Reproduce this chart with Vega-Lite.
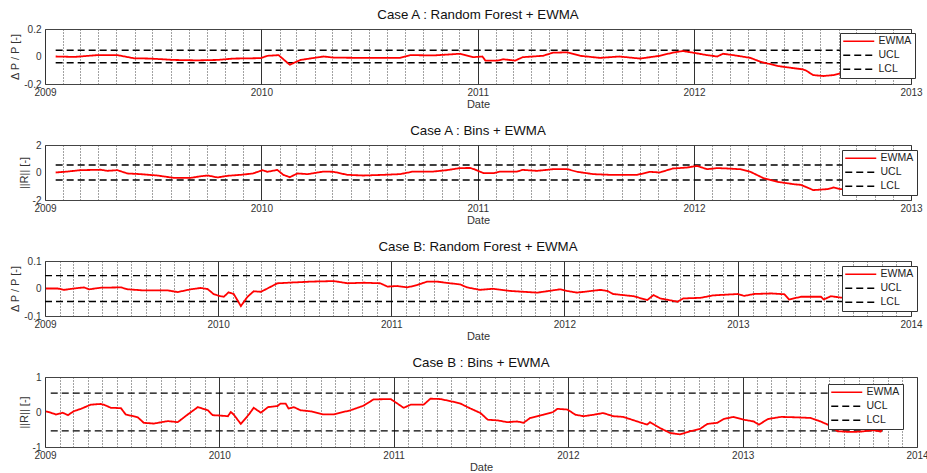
{
"$schema": "https://vega.github.io/schema/vega-lite/v6.json",
"padding": {"left": 9, "top": 7, "right": 0, "bottom": 0},
"background": "white",
"config": {
  "font": "Liberation Sans",
  "view": {"stroke": "#444", "strokeWidth": 1},
  "title": {"font": "Liberation Sans", "fontSize": 13.3, "fontWeight": "normal", "color": "#111", "offset": 3},
  "axis": {"labelFont": "Liberation Sans", "labelFontSize": 10, "labelColor": "#333", "titleFont": "Liberation Sans", "titleFontSize": 11, "titleFontWeight": "normal", "titleColor": "#333", "domain": false, "ticks": false},
  "axisX": {"labelPadding": 3, "titlePadding": 1},
  "axisY": {"labelPadding": 4, "titlePadding": 3},
  "legend": {"title": null, "symbolType": "M-3.875,0H3.875", "symbolSize": 64, "symbolOffset": 10.5, "labelOffset": 14.5, "symbolStrokeWidth": 1.6, "labelFont": "Liberation Sans", "labelFontSize": 10.5, "labelColor": "#222", "padding": 3, "rowPadding": 3, "fillColor": "white", "strokeColor": "#333"}
},
"resolve": {"scale": {"x": "independent", "y": "independent", "color": "independent", "strokeDash": "independent"}, "legend": {"color": "independent", "strokeDash": "independent"}},
"spacing": 13,
"datasets": {
"p1": [
{"d":"2009-01-19","v":0.045,"s":"UCL"},{"d":"2012-12-20","v":0.045,"s":"UCL"},
{"d":"2009-01-19","v":-0.045,"s":"LCL"},{"d":"2012-12-20","v":-0.045,"s":"LCL"},
{"d":"2009-01-19","v":0.0,"s":"EWMA"},{"d":"2009-02-20","v":-0.003,"s":"EWMA"},{"d":"2009-03-30","v":0.01,"s":"EWMA"},{"d":"2009-05-03","v":0.01,"s":"EWMA"},{"d":"2009-05-31","v":-0.013,"s":"EWMA"},{"d":"2009-06-28","v":-0.015,"s":"EWMA"},{"d":"2009-08-06","v":-0.025,"s":"EWMA"},{"d":"2009-09-15","v":-0.028,"s":"EWMA"},{"d":"2009-10-19","v":-0.025,"s":"EWMA"},{"d":"2009-11-15","v":-0.015,"s":"EWMA"},{"d":"2009-12-31","v":-0.012,"s":"EWMA"},{"d":"2010-01-11","v":0.005,"s":"EWMA"},{"d":"2010-01-30","v":0.01,"s":"EWMA"},{"d":"2010-02-18","v":-0.06,"s":"EWMA"},{"d":"2010-03-08","v":-0.025,"s":"EWMA"},{"d":"2010-04-16","v":0.0,"s":"EWMA"},{"d":"2010-05-03","v":-0.008,"s":"EWMA"},{"d":"2010-06-20","v":-0.01,"s":"EWMA"},{"d":"2010-08-23","v":-0.01,"s":"EWMA"},{"d":"2010-09-09","v":0.01,"s":"EWMA"},{"d":"2010-10-20","v":0.008,"s":"EWMA"},{"d":"2010-12-02","v":0.02,"s":"EWMA"},{"d":"2010-12-24","v":-0.005,"s":"EWMA"},{"d":"2011-01-09","v":0.0,"s":"EWMA"},{"d":"2011-01-14","v":-0.03,"s":"EWMA"},{"d":"2011-02-03","v":-0.03,"s":"EWMA"},{"d":"2011-02-13","v":-0.02,"s":"EWMA"},{"d":"2011-03-05","v":-0.03,"s":"EWMA"},{"d":"2011-03-18","v":-0.005,"s":"EWMA"},{"d":"2011-04-21","v":0.005,"s":"EWMA"},{"d":"2011-05-08","v":0.028,"s":"EWMA"},{"d":"2011-06-01","v":0.03,"s":"EWMA"},{"d":"2011-06-23","v":0.005,"s":"EWMA"},{"d":"2011-07-26","v":-0.01,"s":"EWMA"},{"d":"2011-08-28","v":0.0,"s":"EWMA"},{"d":"2011-10-02","v":-0.015,"s":"EWMA"},{"d":"2011-11-04","v":0.005,"s":"EWMA"},{"d":"2011-11-26","v":0.028,"s":"EWMA"},{"d":"2011-12-13","v":0.04,"s":"EWMA"},{"d":"2011-12-30","v":0.028,"s":"EWMA"},{"d":"2012-01-23","v":0.01,"s":"EWMA"},{"d":"2012-02-09","v":0.0,"s":"EWMA"},{"d":"2012-02-19","v":0.02,"s":"EWMA"},{"d":"2012-03-07","v":0.01,"s":"EWMA"},{"d":"2012-04-05","v":-0.01,"s":"EWMA"},{"d":"2012-04-22","v":-0.038,"s":"EWMA"},{"d":"2012-05-21","v":-0.069,"s":"EWMA"},{"d":"2012-06-17","v":-0.085,"s":"EWMA"},{"d":"2012-07-02","v":-0.093,"s":"EWMA"},{"d":"2012-07-07","v":-0.1,"s":"EWMA"},{"d":"2012-07-20","v":-0.135,"s":"EWMA"},{"d":"2012-08-06","v":-0.142,"s":"EWMA"},{"d":"2012-08-23","v":-0.135,"s":"EWMA"},{"d":"2012-09-04","v":-0.122,"s":"EWMA"},{"d":"2012-10-10","v":-0.12,"s":"EWMA"},{"d":"2012-11-20","v":-0.115,"s":"EWMA"}
],
"p2": [
{"d":"2009-01-19","v":0.55,"s":"UCL"},{"d":"2012-12-20","v":0.55,"s":"UCL"},
{"d":"2009-01-19","v":-0.55,"s":"LCL"},{"d":"2012-12-20","v":-0.55,"s":"LCL"},
{"d":"2009-01-19","v":0.0,"s":"EWMA"},{"d":"2009-02-08","v":0.07,"s":"EWMA"},{"d":"2009-03-02","v":0.17,"s":"EWMA"},{"d":"2009-04-05","v":0.2,"s":"EWMA"},{"d":"2009-04-16","v":0.12,"s":"EWMA"},{"d":"2009-05-03","v":0.17,"s":"EWMA"},{"d":"2009-05-20","v":-0.07,"s":"EWMA"},{"d":"2009-06-11","v":-0.12,"s":"EWMA"},{"d":"2009-07-10","v":-0.22,"s":"EWMA"},{"d":"2009-08-06","v":-0.39,"s":"EWMA"},{"d":"2009-09-04","v":-0.39,"s":"EWMA"},{"d":"2009-09-21","v":-0.27,"s":"EWMA"},{"d":"2009-10-03","v":-0.22,"s":"EWMA"},{"d":"2009-10-19","v":-0.36,"s":"EWMA"},{"d":"2009-11-05","v":-0.24,"s":"EWMA"},{"d":"2009-11-27","v":-0.17,"s":"EWMA"},{"d":"2009-12-18","v":-0.07,"s":"EWMA"},{"d":"2010-01-03","v":0.17,"s":"EWMA"},{"d":"2010-01-11","v":0.05,"s":"EWMA"},{"d":"2010-01-28","v":0.19,"s":"EWMA"},{"d":"2010-02-07","v":-0.17,"s":"EWMA"},{"d":"2010-02-18","v":-0.34,"s":"EWMA"},{"d":"2010-03-03","v":-0.07,"s":"EWMA"},{"d":"2010-03-20","v":-0.12,"s":"EWMA"},{"d":"2010-04-16","v":0.07,"s":"EWMA"},{"d":"2010-05-03","v":0.05,"s":"EWMA"},{"d":"2010-05-26","v":-0.17,"s":"EWMA"},{"d":"2010-06-22","v":-0.22,"s":"EWMA"},{"d":"2010-07-26","v":-0.17,"s":"EWMA"},{"d":"2010-08-23","v":-0.12,"s":"EWMA"},{"d":"2010-09-14","v":0.07,"s":"EWMA"},{"d":"2010-10-18","v":0.07,"s":"EWMA"},{"d":"2010-11-10","v":0.17,"s":"EWMA"},{"d":"2010-12-02","v":0.32,"s":"EWMA"},{"d":"2010-12-19","v":0.33,"s":"EWMA"},{"d":"2010-12-26","v":0.24,"s":"EWMA"},{"d":"2011-01-11","v":-0.05,"s":"EWMA"},{"d":"2011-01-27","v":-0.05,"s":"EWMA"},{"d":"2011-02-08","v":0.07,"s":"EWMA"},{"d":"2011-03-08","v":0.07,"s":"EWMA"},{"d":"2011-03-18","v":0.19,"s":"EWMA"},{"d":"2011-04-11","v":0.12,"s":"EWMA"},{"d":"2011-05-08","v":0.24,"s":"EWMA"},{"d":"2011-06-01","v":0.24,"s":"EWMA"},{"d":"2011-06-18","v":0.05,"s":"EWMA"},{"d":"2011-07-15","v":-0.12,"s":"EWMA"},{"d":"2011-08-12","v":-0.17,"s":"EWMA"},{"d":"2011-09-27","v":-0.17,"s":"EWMA"},{"d":"2011-10-19","v":0.05,"s":"EWMA"},{"d":"2011-11-04","v":0.0,"s":"EWMA"},{"d":"2011-11-26","v":0.29,"s":"EWMA"},{"d":"2011-12-20","v":0.36,"s":"EWMA"},{"d":"2012-01-06","v":0.48,"s":"EWMA"},{"d":"2012-01-23","v":0.24,"s":"EWMA"},{"d":"2012-02-09","v":0.32,"s":"EWMA"},{"d":"2012-02-26","v":0.29,"s":"EWMA"},{"d":"2012-03-19","v":0.24,"s":"EWMA"},{"d":"2012-04-05","v":0.05,"s":"EWMA"},{"d":"2012-04-27","v":-0.41,"s":"EWMA"},{"d":"2012-05-21","v":-0.68,"s":"EWMA"},{"d":"2012-06-17","v":-0.85,"s":"EWMA"},{"d":"2012-06-29","v":-0.9,"s":"EWMA"},{"d":"2012-07-10","v":-1.09,"s":"EWMA"},{"d":"2012-07-20","v":-1.28,"s":"EWMA"},{"d":"2012-08-13","v":-1.21,"s":"EWMA"},{"d":"2012-08-23","v":-1.09,"s":"EWMA"},{"d":"2012-09-04","v":-1.21,"s":"EWMA"},{"d":"2012-10-15","v":-1.2,"s":"EWMA"},{"d":"2012-11-20","v":-1.15,"s":"EWMA"}
],
"p3": [
{"d":"2009-01-01","v":0.047,"s":"UCL"},{"d":"2013-09-15","v":0.047,"s":"UCL"},
{"d":"2009-01-01","v":-0.047,"s":"LCL"},{"d":"2013-09-15","v":-0.047,"s":"LCL"},
{"d":"2009-01-03","v":0.0,"s":"EWMA"},{"d":"2009-01-28","v":0.0,"s":"EWMA"},{"d":"2009-02-10","v":-0.005,"s":"EWMA"},{"d":"2009-03-03","v":0.0,"s":"EWMA"},{"d":"2009-03-24","v":0.004,"s":"EWMA"},{"d":"2009-04-04","v":-0.003,"s":"EWMA"},{"d":"2009-04-29","v":0.003,"s":"EWMA"},{"d":"2009-06-10","v":0.004,"s":"EWMA"},{"d":"2009-06-25","v":-0.003,"s":"EWMA"},{"d":"2009-07-28","v":-0.007,"s":"EWMA"},{"d":"2009-09-17","v":-0.007,"s":"EWMA"},{"d":"2009-10-08","v":-0.013,"s":"EWMA"},{"d":"2009-11-04","v":-0.003,"s":"EWMA"},{"d":"2009-11-25","v":0.002,"s":"EWMA"},{"d":"2009-12-10","v":-0.002,"s":"EWMA"},{"d":"2009-12-23","v":-0.021,"s":"EWMA"},{"d":"2010-01-06","v":-0.028,"s":"EWMA"},{"d":"2010-01-13","v":-0.03,"s":"EWMA"},{"d":"2010-01-23","v":-0.014,"s":"EWMA"},{"d":"2010-02-03","v":-0.02,"s":"EWMA"},{"d":"2010-02-18","v":-0.064,"s":"EWMA"},{"d":"2010-03-04","v":-0.03,"s":"EWMA"},{"d":"2010-03-17","v":-0.01,"s":"EWMA"},{"d":"2010-04-01","v":-0.012,"s":"EWMA"},{"d":"2010-04-15","v":0.0,"s":"EWMA"},{"d":"2010-05-06","v":0.019,"s":"EWMA"},{"d":"2010-06-09","v":0.022,"s":"EWMA"},{"d":"2010-07-15","v":0.025,"s":"EWMA"},{"d":"2010-09-02","v":0.027,"s":"EWMA"},{"d":"2010-10-01","v":0.019,"s":"EWMA"},{"d":"2010-11-04","v":0.021,"s":"EWMA"},{"d":"2010-12-09","v":0.019,"s":"EWMA"},{"d":"2010-12-24","v":0.007,"s":"EWMA"},{"d":"2011-01-14","v":0.009,"s":"EWMA"},{"d":"2011-02-04","v":0.004,"s":"EWMA"},{"d":"2011-02-25","v":0.013,"s":"EWMA"},{"d":"2011-03-18","v":0.025,"s":"EWMA"},{"d":"2011-04-08","v":0.025,"s":"EWMA"},{"d":"2011-05-05","v":0.019,"s":"EWMA"},{"d":"2011-05-26","v":0.015,"s":"EWMA"},{"d":"2011-06-10","v":0.004,"s":"EWMA"},{"d":"2011-07-07","v":-0.005,"s":"EWMA"},{"d":"2011-08-03","v":-0.001,"s":"EWMA"},{"d":"2011-09-09","v":-0.009,"s":"EWMA"},{"d":"2011-11-05","v":-0.015,"s":"EWMA"},{"d":"2011-12-23","v":-0.003,"s":"EWMA"},{"d":"2012-01-07","v":-0.009,"s":"EWMA"},{"d":"2012-01-28","v":-0.015,"s":"EWMA"},{"d":"2012-03-17","v":-0.005,"s":"EWMA"},{"d":"2012-04-01","v":-0.009,"s":"EWMA"},{"d":"2012-04-13","v":-0.02,"s":"EWMA"},{"d":"2012-05-26","v":-0.028,"s":"EWMA"},{"d":"2012-06-24","v":-0.042,"s":"EWMA"},{"d":"2012-07-07","v":-0.024,"s":"EWMA"},{"d":"2012-07-21","v":-0.036,"s":"EWMA"},{"d":"2012-08-27","v":-0.048,"s":"EWMA"},{"d":"2012-09-08","v":-0.036,"s":"EWMA"},{"d":"2012-10-14","v":-0.034,"s":"EWMA"},{"d":"2012-11-10","v":-0.025,"s":"EWMA"},{"d":"2013-01-01","v":-0.02,"s":"EWMA"},{"d":"2013-01-14","v":-0.027,"s":"EWMA"},{"d":"2013-02-04","v":-0.02,"s":"EWMA"},{"d":"2013-03-12","v":-0.018,"s":"EWMA"},{"d":"2013-04-09","v":-0.021,"s":"EWMA"},{"d":"2013-04-19","v":-0.04,"s":"EWMA"},{"d":"2013-05-14","v":-0.03,"s":"EWMA"},{"d":"2013-06-25","v":-0.03,"s":"EWMA"},{"d":"2013-07-01","v":-0.04,"s":"EWMA"},{"d":"2013-07-16","v":-0.028,"s":"EWMA"},{"d":"2013-08-06","v":-0.033,"s":"EWMA"},{"d":"2013-09-10","v":-0.03,"s":"EWMA"}
],
"p4": [
{"d":"2009-01-13","v":0.54,"s":"UCL"},{"d":"2013-10-23","v":0.54,"s":"UCL"},
{"d":"2009-01-13","v":-0.54,"s":"LCL"},{"d":"2013-10-23","v":-0.54,"s":"LCL"},
{"d":"2009-01-03","v":0.02,"s":"EWMA"},{"d":"2009-01-13","v":-0.02,"s":"EWMA"},{"d":"2009-01-24","v":-0.07,"s":"EWMA"},{"d":"2009-02-07","v":-0.02,"s":"EWMA"},{"d":"2009-02-18","v":-0.09,"s":"EWMA"},{"d":"2009-03-02","v":0.02,"s":"EWMA"},{"d":"2009-03-17","v":0.09,"s":"EWMA"},{"d":"2009-04-07","v":0.21,"s":"EWMA"},{"d":"2009-04-28","v":0.23,"s":"EWMA"},{"d":"2009-05-04","v":0.21,"s":"EWMA"},{"d":"2009-05-19","v":0.12,"s":"EWMA"},{"d":"2009-06-09","v":0.11,"s":"EWMA"},{"d":"2009-06-19","v":-0.07,"s":"EWMA"},{"d":"2009-07-14","v":-0.15,"s":"EWMA"},{"d":"2009-07-27","v":-0.31,"s":"EWMA"},{"d":"2009-08-17","v":-0.33,"s":"EWMA"},{"d":"2009-09-15","v":-0.26,"s":"EWMA"},{"d":"2009-10-06","v":-0.29,"s":"EWMA"},{"d":"2009-10-27","v":-0.07,"s":"EWMA"},{"d":"2009-11-17","v":0.14,"s":"EWMA"},{"d":"2009-12-08","v":0.05,"s":"EWMA"},{"d":"2009-12-18","v":-0.09,"s":"EWMA"},{"d":"2009-12-31","v":-0.1,"s":"EWMA"},{"d":"2010-01-19","v":-0.12,"s":"EWMA"},{"d":"2010-01-25","v":0.0,"s":"EWMA"},{"d":"2010-01-31","v":-0.07,"s":"EWMA"},{"d":"2010-02-15","v":-0.34,"s":"EWMA"},{"d":"2010-03-04","v":-0.07,"s":"EWMA"},{"d":"2010-03-14","v":0.12,"s":"EWMA"},{"d":"2010-03-29","v":-0.02,"s":"EWMA"},{"d":"2010-04-13","v":0.14,"s":"EWMA"},{"d":"2010-05-03","v":0.17,"s":"EWMA"},{"d":"2010-05-09","v":0.24,"s":"EWMA"},{"d":"2010-05-20","v":0.24,"s":"EWMA"},{"d":"2010-05-26","v":0.1,"s":"EWMA"},{"d":"2010-06-06","v":0.14,"s":"EWMA"},{"d":"2010-06-20","v":0.05,"s":"EWMA"},{"d":"2010-07-11","v":0.02,"s":"EWMA"},{"d":"2010-08-07","v":-0.07,"s":"EWMA"},{"d":"2010-08-28","v":-0.07,"s":"EWMA"},{"d":"2010-10-03","v":0.05,"s":"EWMA"},{"d":"2010-10-30","v":0.18,"s":"EWMA"},{"d":"2010-11-20","v":0.36,"s":"EWMA"},{"d":"2010-12-26","v":0.37,"s":"EWMA"},{"d":"2011-01-22","v":0.12,"s":"EWMA"},{"d":"2011-02-06","v":0.21,"s":"EWMA"},{"d":"2011-03-05","v":0.21,"s":"EWMA"},{"d":"2011-03-19","v":0.38,"s":"EWMA"},{"d":"2011-04-09","v":0.37,"s":"EWMA"},{"d":"2011-04-30","v":0.31,"s":"EWMA"},{"d":"2011-05-21","v":0.24,"s":"EWMA"},{"d":"2011-06-11","v":0.1,"s":"EWMA"},{"d":"2011-07-02","v":-0.03,"s":"EWMA"},{"d":"2011-07-17","v":-0.22,"s":"EWMA"},{"d":"2011-08-07","v":-0.24,"s":"EWMA"},{"d":"2011-08-27","v":-0.29,"s":"EWMA"},{"d":"2011-09-17","v":-0.27,"s":"EWMA"},{"d":"2011-09-30","v":-0.31,"s":"EWMA"},{"d":"2011-10-14","v":-0.17,"s":"EWMA"},{"d":"2011-11-10","v":-0.08,"s":"EWMA"},{"d":"2011-12-01","v":0.0,"s":"EWMA"},{"d":"2011-12-10","v":0.09,"s":"EWMA"},{"d":"2011-12-31","v":0.07,"s":"EWMA"},{"d":"2012-01-17","v":-0.08,"s":"EWMA"},{"d":"2012-02-03","v":-0.12,"s":"EWMA"},{"d":"2012-02-23","v":-0.08,"s":"EWMA"},{"d":"2012-03-15","v":-0.03,"s":"EWMA"},{"d":"2012-04-05","v":-0.12,"s":"EWMA"},{"d":"2012-04-26","v":-0.14,"s":"EWMA"},{"d":"2012-05-25","v":-0.27,"s":"EWMA"},{"d":"2012-06-15","v":-0.36,"s":"EWMA"},{"d":"2012-06-21","v":-0.29,"s":"EWMA"},{"d":"2012-07-12","v":-0.46,"s":"EWMA"},{"d":"2012-08-02","v":-0.6,"s":"EWMA"},{"d":"2012-08-23","v":-0.64,"s":"EWMA"},{"d":"2012-09-13","v":-0.55,"s":"EWMA"},{"d":"2012-10-04","v":-0.48,"s":"EWMA"},{"d":"2012-10-19","v":-0.34,"s":"EWMA"},{"d":"2012-11-09","v":-0.31,"s":"EWMA"},{"d":"2012-11-22","v":-0.2,"s":"EWMA"},{"d":"2012-12-13","v":-0.14,"s":"EWMA"},{"d":"2013-01-03","v":-0.22,"s":"EWMA"},{"d":"2013-01-24","v":-0.27,"s":"EWMA"},{"d":"2013-02-04","v":-0.36,"s":"EWMA"},{"d":"2013-02-23","v":-0.2,"s":"EWMA"},{"d":"2013-03-22","v":-0.14,"s":"EWMA"},{"d":"2013-04-18","v":-0.15,"s":"EWMA"},{"d":"2013-05-23","v":-0.17,"s":"EWMA"},{"d":"2013-06-13","v":-0.27,"s":"EWMA"},{"d":"2013-06-28","v":-0.36,"s":"EWMA"},{"d":"2013-07-19","v":-0.55,"s":"EWMA"},{"d":"2013-08-15","v":-0.57,"s":"EWMA"},{"d":"2013-09-05","v":-0.56,"s":"EWMA"},{"d":"2013-10-02","v":-0.52,"s":"EWMA"},{"d":"2013-10-17","v":-0.56,"s":"EWMA"},{"d":"2013-10-23","v":-0.41,"s":"EWMA"}
]
},
"vconcat": [
{
  "title": "Case A : Random Forest + EWMA",
  "width": 866, "height": 55,
  "data": {"name": "p1"},
  "encoding": {
    "x": {"field": "d", "type": "temporal", "title": "Date", "scale": {"domain": [{"year": 2009, "month": 1, "date": 1}, {"year": 2013, "month": 1, "date": 1}], "nice": false},
      "axis": {"tickCount": {"interval": "month", "step": 1}, "labelExpr": "month(datum.value) == 0 ? timeFormat(datum.value, '%Y') : ''", "labelFlush": false, "labelOverlap": false, "labelBound": false, "grid": true, "gridColor": {"condition": {"test": "month(datum.value) == 0", "value": "#333"}, "value": "#444"}, "gridDash": {"condition": {"test": "month(datum.value) == 0", "value": []}, "value": [1, 2]}, "gridOpacity": 1, "gridWidth": 1}},
    "y": {"field": "v", "type": "quantitative", "title": "Δ P / P [-]", "scale": {"domain": [-0.2, 0.2], "nice": false},
      "axis": {"values": [-0.2, 0, 0.2], "labelExpr": "toString(datum.value)", "grid": false}},
    "color": {"field": "s", "type": "nominal", "scale": {"domain": ["EWMA", "UCL", "LCL"], "range": ["#ff0000", "#000000", "#000000"]}, "legend": {"orient": "none", "legendX": 795, "legendY": 4}},
    "strokeDash": {"field": "s", "type": "nominal", "scale": {"domain": ["EWMA", "UCL", "LCL"], "range": [[1, 0], [7, 4], [7, 4]]}, "legend": {"orient": "none", "legendX": 795, "legendY": 4}}
  },
  "layer": [
    {"transform": [{"filter": "datum.s !== 'EWMA'"}], "mark": {"type": "line", "strokeWidth": 1.4}},
    {"transform": [{"filter": "datum.s === 'EWMA'"}], "mark": {"type": "line", "strokeWidth": 1.8}}
  ]
},
{
  "title": "Case A :  Bins + EWMA",
  "width": 866, "height": 55,
  "data": {"name": "p2"},
  "encoding": {
    "x": {"field": "d", "type": "temporal", "title": "Date", "scale": {"domain": [{"year": 2009, "month": 1, "date": 1}, {"year": 2013, "month": 1, "date": 1}], "nice": false},
      "axis": {"tickCount": {"interval": "month", "step": 1}, "labelExpr": "month(datum.value) == 0 ? timeFormat(datum.value, '%Y') : ''", "labelFlush": false, "labelOverlap": false, "labelBound": false, "grid": true, "gridColor": {"condition": {"test": "month(datum.value) == 0", "value": "#333"}, "value": "#444"}, "gridDash": {"condition": {"test": "month(datum.value) == 0", "value": []}, "value": [1, 2]}, "gridOpacity": 1, "gridWidth": 1}},
    "y": {"field": "v", "type": "quantitative", "title": "||R|| [-]", "scale": {"domain": [-2, 2], "nice": false},
      "axis": {"values": [-2, 0, 2], "labelExpr": "toString(datum.value)", "grid": false}},
    "color": {"field": "s", "type": "nominal", "scale": {"domain": ["EWMA", "UCL", "LCL"], "range": ["#ff0000", "#000000", "#000000"]}, "legend": {"orient": "none", "legendX": 797, "legendY": 5}},
    "strokeDash": {"field": "s", "type": "nominal", "scale": {"domain": ["EWMA", "UCL", "LCL"], "range": [[1, 0], [7, 4], [7, 4]]}, "legend": {"orient": "none", "legendX": 797, "legendY": 5}}
  },
  "layer": [
    {"transform": [{"filter": "datum.s !== 'EWMA'"}], "mark": {"type": "line", "strokeWidth": 1.4}},
    {"transform": [{"filter": "datum.s === 'EWMA'"}], "mark": {"type": "line", "strokeWidth": 1.8}}
  ]
},
{
  "title": "Case B: Random Forest  + EWMA",
  "width": 866, "height": 55,
  "data": {"name": "p3"},
  "encoding": {
    "x": {"field": "d", "type": "temporal", "title": "Date", "scale": {"domain": [{"year": 2009, "month": 1, "date": 1}, {"year": 2014, "month": 1, "date": 1}], "nice": false},
      "axis": {"tickCount": {"interval": "month", "step": 1}, "labelExpr": "month(datum.value) == 0 ? timeFormat(datum.value, '%Y') : ''", "labelFlush": false, "labelOverlap": false, "labelBound": false, "grid": true, "gridColor": {"condition": {"test": "month(datum.value) == 0", "value": "#333"}, "value": "#444"}, "gridDash": {"condition": {"test": "month(datum.value) == 0", "value": []}, "value": [1, 2]}, "gridOpacity": 1, "gridWidth": 1}},
    "y": {"field": "v", "type": "quantitative", "title": "Δ P / P [-]", "scale": {"domain": [-0.1, 0.1], "nice": false},
      "axis": {"values": [-0.1, 0, 0.1], "labelExpr": "toString(datum.value)", "grid": false}},
    "color": {"field": "s", "type": "nominal", "scale": {"domain": ["EWMA", "UCL", "LCL"], "range": ["#ff0000", "#000000", "#000000"]}, "legend": {"orient": "none", "legendX": 797, "legendY": 5}},
    "strokeDash": {"field": "s", "type": "nominal", "scale": {"domain": ["EWMA", "UCL", "LCL"], "range": [[1, 0], [7, 4], [7, 4]]}, "legend": {"orient": "none", "legendX": 797, "legendY": 5}}
  },
  "layer": [
    {"transform": [{"filter": "datum.s !== 'EWMA'"}], "mark": {"type": "line", "strokeWidth": 1.4}},
    {"transform": [{"filter": "datum.s === 'EWMA'"}], "mark": {"type": "line", "strokeWidth": 1.8}}
  ]
},
{
  "title": "Case B : Bins + EWMA",
  "width": 872, "height": 70,
  "data": {"name": "p4"},
  "encoding": {
    "x": {"field": "d", "type": "temporal", "title": "Date", "scale": {"domain": [{"year": 2009, "month": 1, "date": 1}, {"year": 2014, "month": 1, "date": 1}], "nice": false},
      "axis": {"tickCount": {"interval": "month", "step": 1}, "labelExpr": "month(datum.value) == 0 ? timeFormat(datum.value, '%Y') : ''", "labelFlush": false, "labelOverlap": false, "labelBound": false, "grid": true, "gridColor": {"condition": {"test": "month(datum.value) == 0", "value": "#333"}, "value": "#444"}, "gridDash": {"condition": {"test": "month(datum.value) == 0", "value": []}, "value": [1, 2]}, "gridOpacity": 1, "gridWidth": 1}},
    "y": {"field": "v", "type": "quantitative", "title": "||R|| [-]", "scale": {"domain": [-1, 1], "nice": false},
      "axis": {"values": [-1, 0, 1], "labelExpr": "toString(datum.value)", "grid": false}},
    "color": {"field": "s", "type": "nominal", "scale": {"domain": ["EWMA", "UCL", "LCL"], "range": ["#ff0000", "#000000", "#000000"]}, "legend": {"orient": "none", "legendX": 783, "legendY": 7}},
    "strokeDash": {"field": "s", "type": "nominal", "scale": {"domain": ["EWMA", "UCL", "LCL"], "range": [[1, 0], [7, 4], [7, 4]]}, "legend": {"orient": "none", "legendX": 783, "legendY": 7}}
  },
  "layer": [
    {"transform": [{"filter": "datum.s !== 'EWMA'"}], "mark": {"type": "line", "strokeWidth": 1.4}},
    {"transform": [{"filter": "datum.s === 'EWMA'"}], "mark": {"type": "line", "strokeWidth": 1.8}}
  ]
}
]
}
